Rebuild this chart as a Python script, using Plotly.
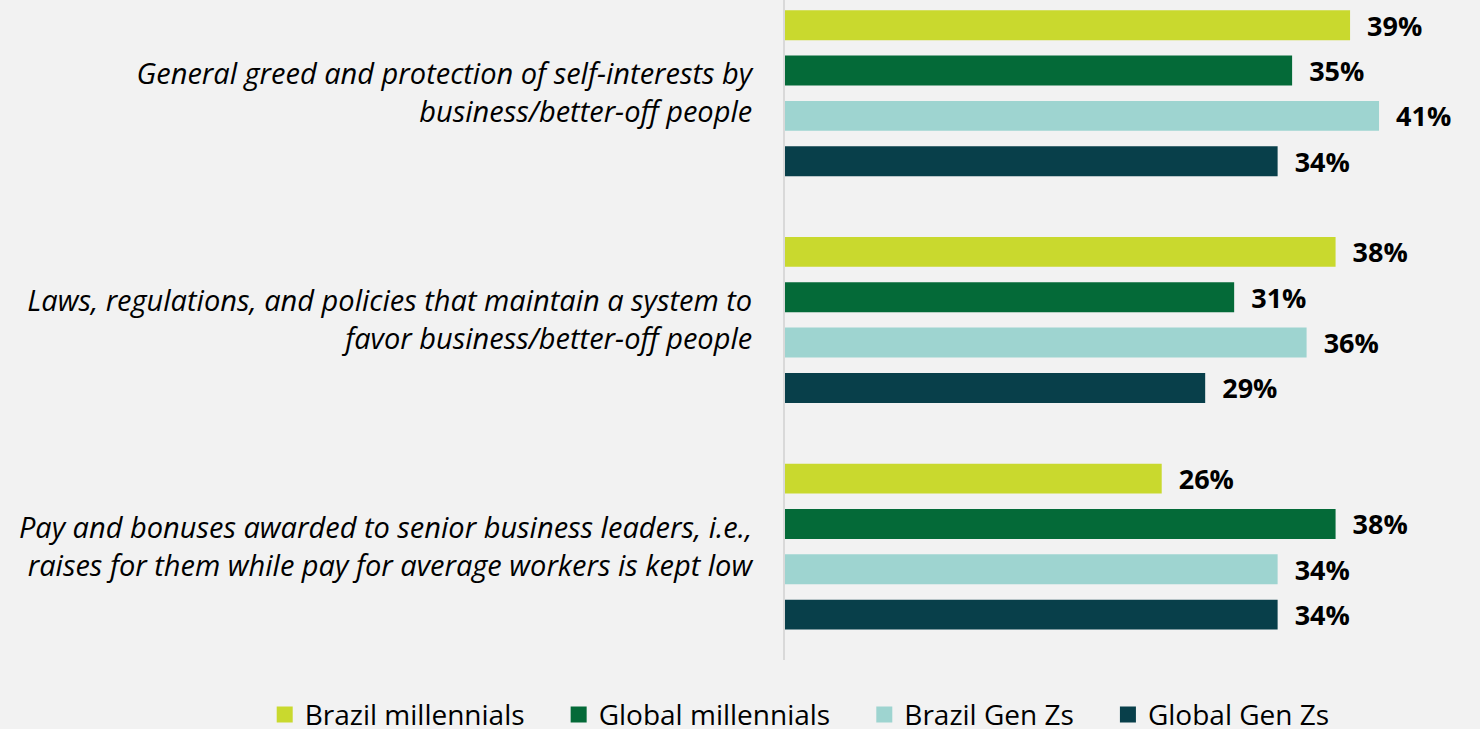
import plotly.graph_objects as go

# Survey categories (top to bottom) and series values in percent
categories = [
    "General greed and protection of self-interests by<br>business/better-off people",
    "Laws, regulations, and policies that maintain a system to<br>favor business/better-off people",
    "Pay and bonuses awarded to senior business leaders, i.e.,<br>raises for them while pay for average workers is kept low",
]
brazil_millennials = [39, 38, 26]
global_millennials = [35, 31, 38]
brazil_gen_zs = [41, 36, 34]
global_gen_zs = [34, 29, 34]

series = [
    ("Brazil millennials", brazil_millennials, "#c9d92e"),
    ("Global millennials", global_millennials, "#046a38"),
    ("Brazil Gen Zs", brazil_gen_zs, "#9ed4d0"),
    ("Global Gen Zs", global_gen_zs, "#083f4a"),
]

FONT = "Open Sans"
LEGEND_PAD = "\u00a0" * 4  # extra spacing between legend entries

fig = go.Figure()

for name, vals, color in series:
    fig.add_trace(go.Bar(
        y=categories,
        x=vals,
        orientation="h",
        name=name,
        marker=dict(color=color, line=dict(width=0)),
        text=["\u00a0\u00a0" + f"{v}%" for v in vals],
        textposition="outside",
        constraintext="none",
        textfont=dict(family=FONT, size=27, color="#000000", weight="bold"),
        cliponaxis=False,
        showlegend=False,
    ))
    # legend swatch
    fig.add_trace(go.Scatter(
        x=[None], y=[None], mode="markers", name=name + LEGEND_PAD,
        marker=dict(symbol="square", size=18, color=color),
        showlegend=True,
    ))

fig.update_layout(
    width=1480,
    height=729,
    paper_bgcolor="#f2f2f2",
    plot_bgcolor="#f2f2f2",
    barmode="group",
    bargap=0.2,
    bargroupgap=0.34,
    margin=dict(l=785, r=43, t=0, b=69, autoexpand=False),
    font=dict(family=FONT, color="#000000"),
    xaxis=dict(
        range=[0, 45],
        visible=False,
        showgrid=False,
        zeroline=False,
    ),
    yaxis=dict(
        type="category",
        range=[2.5, -0.411],
        showgrid=False,
        zeroline=False,
        showline=True,
        linecolor="#d9d9d9",
        linewidth=2,
        ticks="",
        ticklabelstandoff=25,
        tickfont=dict(family=FONT, size=29, color="#000000", style="italic"),
    ),
    legend=dict(
        orientation="h",
        x=-0.798,
        xanchor="left",
        y=-0.083,
        yanchor="middle",
        font=dict(family=FONT, size=28, color="#000000"),
        itemwidth=30,
        tracegroupgap=0,
        bgcolor="rgba(0,0,0,0)",
    ),
)

fig.write_html("out.html")
